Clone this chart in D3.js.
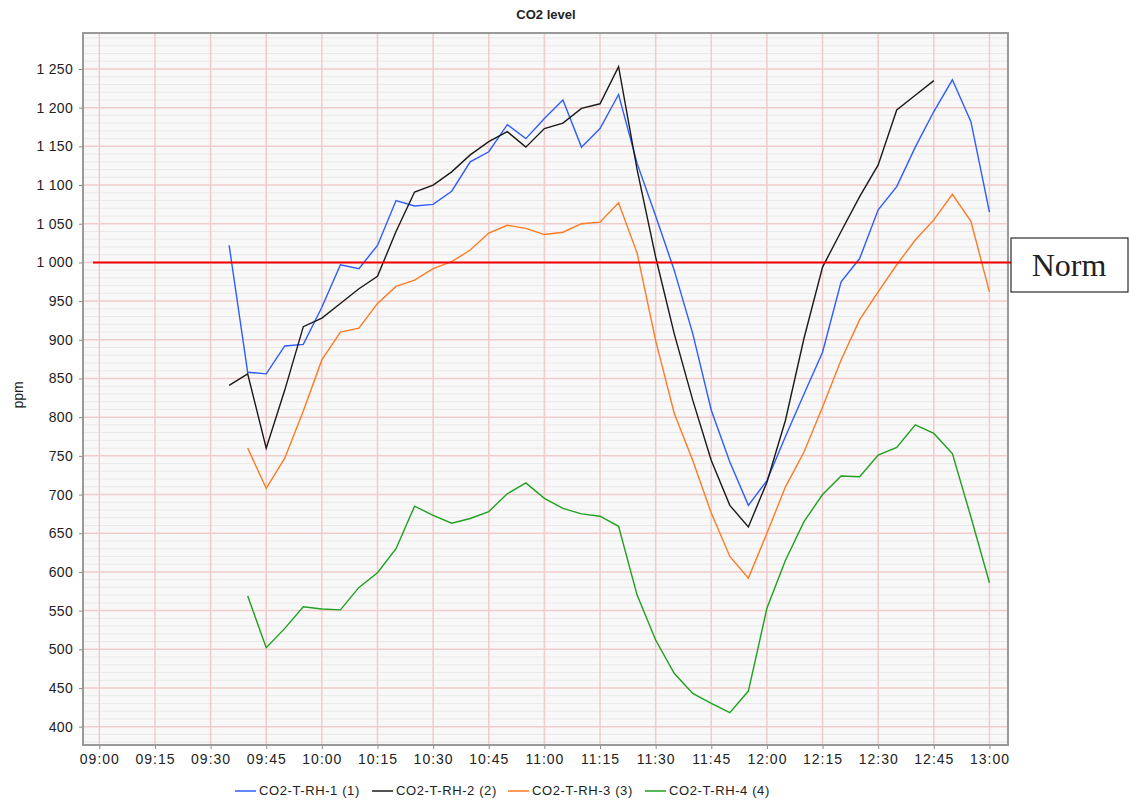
<!DOCTYPE html>
<html>
<head>
<meta charset="utf-8">
<script src="https://cdn.jsdelivr.net/npm/d3@7"></script>
<style>
  body { margin: 0; background: #fff; }
  text { font-family: "Liberation Sans", Arial, sans-serif; fill: #222; }
</style>
</head>
<body>
<script>
// sample times, every 5 minutes
const times = ['09:35','09:40','09:45','09:50','09:55','10:00','10:05','10:10','10:15','10:20',
  '10:25','10:30','10:35','10:40','10:45','10:50','10:55','11:00','11:05','11:10',
  '11:15','11:20','11:25','11:30','11:35','11:40','11:45','11:50','11:55','12:00',
  '12:05','12:10','12:15','12:20','12:25','12:30','12:35','12:40','12:45','12:50',
  '12:55','13:00'];

const rh1 = [1022,858,856,892,894,942,997,992,1022,1080,1073,1075,1092,1130,1143,1178,1160,1186,1210,1149,
  1173,1217,1128,1060,990,908,809,742,686,718,775,830,884,975,1005,1068,1098,1149,1195,1236,1182,1065];
const rh2 = [841,856,760,835,917,928,947,966,982,1040,1091,1100,1117,1139,1156,1169,1149,1173,1180,1199,
  1205,1253,1120,1007,908,822,744,686,658,716,796,902,994,1040,1085,1126,1197,1216,1235,null,null,null];
const rh3 = [null,760,708,747,808,874,910,915,947,969,977,992,1001,1016,1038,1048,1044,1036,1039,1050,
  1052,1077,1012,899,805,744,676,620,592,650,710,755,813,874,926,962,997,1029,1055,1088,1053,962];
const rh4 = [null,569,502,527,555,552,551,580,599,630,685,673,663,669,678,701,715,695,682,675,
  672,659,570,512,469,443,430,418,446,553,615,665,700,724,723,751,761,790,779,753,671,586];

const seriesNames = ['CO2-T-RH-1 (1)','CO2-T-RH-2 (2)','CO2-T-RH-3 (3)','CO2-T-RH-4 (4)'];
const seriesColors = ['#2f5cff','#1a1a1a','#ff7a22','#1fa01f'];
const xTicks = ['09:00','09:15','09:30','09:45','10:00','10:15','10:30','10:45','11:00',
  '11:15','11:30','11:45','12:00','12:15','12:30','12:45','13:00'];
const yTicks = [400,450,500,550,600,650,700,750,800,850,900,950,1000,1050,1100,1150,1200,1250];
const normValue = 1000;

const W = 1130, H = 800;
const pl = 83, pr = 1008, pt = 33, pb = 745;

// minutes after 09:00
const toMin = s => { const [h, m] = s.split(':').map(Number); return (h - 9) * 60 + m; };

const x = d3.scaleLinear().domain([-4.4, 245]).range([pl, pr]);
const y = d3.scaleLinear().domain([376.3, 1296.5]).range([pb, pt]);

const svg = d3.select('body').append('svg').attr('width', W).attr('height', H)
  .style('background', '#fff');

// plot background
svg.append('rect').attr('x', pl).attr('y', pt).attr('width', pr - pl).attr('height', pb - pt)
  .attr('fill', '#f8f8f8');

// minor grid every 10 ppm
const minor = d3.range(380, 1300, 10).filter(v => v % 50 !== 0);
svg.append('g').selectAll('line').data(minor).enter().append('line')
  .attr('x1', pl).attr('x2', pr)
  .attr('y1', d => y(d)).attr('y2', d => y(d))
  .attr('stroke', '#e9e9e9').attr('stroke-width', 1);

// major grid
svg.append('g').selectAll('line').data(yTicks).enter().append('line')
  .attr('x1', pl).attr('x2', pr)
  .attr('y1', d => y(d)).attr('y2', d => y(d))
  .attr('stroke', '#f1cccc').attr('stroke-width', 1.5);
svg.append('g').selectAll('line').data(xTicks).enter().append('line')
  .attr('x1', d => x(toMin(d))).attr('x2', d => x(toMin(d)))
  .attr('y1', pt).attr('y2', pb)
  .attr('stroke', '#f1cccc').attr('stroke-width', 1.5);

// axes
const yAxis = d3.axisLeft(y).tickValues(yTicks).tickSize(4).tickPadding(6)
  .tickFormat(d => d3.format(',')(d).replace(',', ' '));
const gy = svg.append('g').attr('transform', 'translate(' + pl + ',0)').call(yAxis);
const xAxis = d3.axisBottom(x).tickValues(xTicks.map(toMin)).tickSize(4).tickPadding(5)
  .tickFormat((d, i) => xTicks[i]);
const gx = svg.append('g').attr('transform', 'translate(0,' + pb + ')').call(xAxis);
[gy, gx].forEach(g => {
  g.select('.domain').remove();
  g.selectAll('.tick line').attr('stroke', '#888');
  g.selectAll('.tick text').style('font-family', '"Liberation Sans", Arial, sans-serif')
    .style('font-size', '14px').attr('fill', '#222');
});
gx.selectAll('.tick text').style('letter-spacing', '1px');
gy.selectAll('.tick text').style('letter-spacing', '0.3px');

// plot border
svg.append('rect').attr('x', pl).attr('y', pt).attr('width', pr - pl).attr('height', pb - pt)
  .attr('fill', 'none').attr('stroke', '#999').attr('stroke-width', 2);

// series lines
const series = [rh1, rh2, rh3, rh4];
const line = d3.line().defined(d => d[1] != null)
  .x(d => x(toMin(d[0]))).y(d => y(d[1]));
series.forEach((vals, i) => {
  svg.append('path')
    .datum(times.map((t, j) => [t, vals[j]]))
    .attr('d', line)
    .attr('fill', 'none')
    .attr('stroke', seriesColors[i])
    .attr('stroke-width', 1.4);
});

// norm line and box
svg.append('line')
  .attr('x1', pl + 10).attr('x2', 1011)
  .attr('y1', y(normValue)).attr('y2', y(normValue))
  .attr('stroke', '#ee0000').attr('stroke-width', 2);
svg.append('rect').attr('x', 1011).attr('y', 238).attr('width', 117).attr('height', 54)
  .attr('fill', '#fff').attr('stroke', '#000').attr('stroke-width', 1);
svg.append('text').attr('x', 1069).attr('y', 276).attr('text-anchor', 'middle')
  .style('font-family', '"Liberation Serif", "Times New Roman", serif').style('font-size', '32px')
  .attr('fill', '#000').text('Norm');

// title
svg.append('text').attr('x', 546).attr('y', 19).attr('text-anchor', 'middle')
  .style('font-size', '13px').style('font-weight', 'bold').text('CO2 level');

// y label
svg.append('text').attr('transform', 'translate(23,395) rotate(-90)').attr('text-anchor', 'middle')
  .style('font-size', '14px').text('ppm');

// legend
const legendX = [235, 372, 508, 645];
const lg = svg.append('g');
seriesNames.forEach((name, i) => {
  lg.append('line').attr('x1', legendX[i]).attr('x2', legendX[i] + 21)
    .attr('y1', 791).attr('y2', 791).attr('stroke', seriesColors[i]).attr('stroke-width', 1.5);
  lg.append('text').attr('x', legendX[i] + 24).attr('y', 795)
    .style('font-size', '13px').style('letter-spacing', '0.6px').text(name);
});
</script>
</body>
</html>
